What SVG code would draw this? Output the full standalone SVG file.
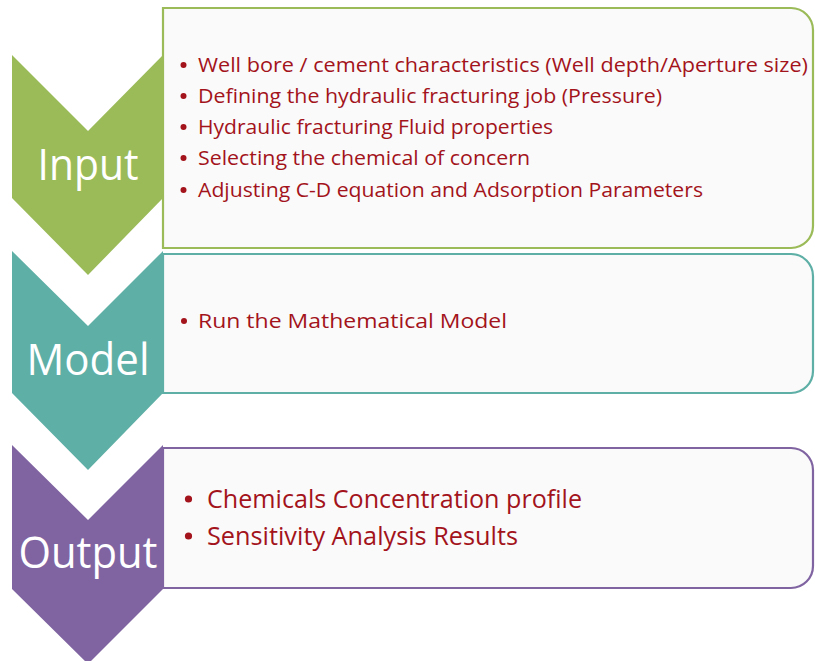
<svg xmlns="http://www.w3.org/2000/svg" width="815" height="661" viewBox="0 0 815 661">
<style>
.box{fill:#FAFAFA;stroke-width:2.2}
.lbl{font-family:"Open Sans","Liberation Sans",sans-serif;fill:#FFFFFF;text-anchor:middle;font-size:44px}
.item{font-family:"Open Sans","Liberation Sans",sans-serif;fill:#A3131B;font-size:20.5px}
.big{font-size:25px}
.dot{fill:#A3131B}
</style>
<rect width="815" height="661" fill="#FFFFFF"/>
<g id="input">
<path class="box" stroke="#9BBB59" d="M163,8 H791 A22,22 0 0 1 813,30 V226 A22,22 0 0 1 791,248 H163 Z"/>
<path fill="#9BBB59" d="M12,55 L88,131 L163,55 L163,198 L88,275 L12,198 Z"/>
<text class="lbl" x="88" y="180" textLength="101" lengthAdjust="spacingAndGlyphs">Input</text>
<circle class="dot" cx="183.5" cy="65" r="3"/>
<circle class="dot" cx="183.5" cy="96" r="3"/>
<circle class="dot" cx="183.5" cy="127" r="3"/>
<circle class="dot" cx="183.5" cy="158" r="3"/>
<circle class="dot" cx="183.5" cy="190" r="3"/>
<text class="item" x="198" y="72" textLength="610" lengthAdjust="spacingAndGlyphs">Well bore / cement characteristics (Well depth/Aperture size)</text>
<text class="item" x="198" y="103" textLength="464" lengthAdjust="spacingAndGlyphs">Defining the hydraulic fracturing job (Pressure)</text>
<text class="item" x="198" y="134" textLength="355" lengthAdjust="spacingAndGlyphs">Hydraulic fracturing Fluid properties</text>
<text class="item" x="198" y="165" textLength="332" lengthAdjust="spacingAndGlyphs">Selecting the chemical of concern</text>
<text class="item" x="198" y="197" textLength="505" lengthAdjust="spacingAndGlyphs">Adjusting C-D equation and Adsorption Parameters</text>
</g>
<g id="model">
<path class="box" stroke="#5EAFA6" d="M163,254 H791 A22,22 0 0 1 813,276 V371 A22,22 0 0 1 791,393 H163 Z"/>
<path fill="#5EAFA6" d="M12,251 L88,326 L163,251 L163,393 L88,470 L12,393 Z"/>
<text class="lbl" x="88" y="375" textLength="123" lengthAdjust="spacingAndGlyphs">Model</text>
<circle class="dot" cx="184" cy="321" r="3"/>
<text class="item" x="198" y="328" textLength="309" lengthAdjust="spacingAndGlyphs">Run the Mathematical Model</text>
</g>
<g id="output">
<path class="box" stroke="#8064A2" d="M163,448 H791 A22,22 0 0 1 813,470 V566 A22,22 0 0 1 791,588 H163 Z"/>
<path fill="#8064A2" d="M12,445 L88,520 L163,445 L163,589 L88,664 L12,589 Z"/>
<text class="lbl" x="88" y="568" textLength="139" lengthAdjust="spacingAndGlyphs">Output</text>
<circle class="dot" cx="188.5" cy="499" r="3.6"/>
<circle class="dot" cx="188.5" cy="536" r="3.6"/>
<text class="item big" x="207" y="508" textLength="375" lengthAdjust="spacingAndGlyphs">Chemicals Concentration profile</text>
<text class="item big" x="207" y="545" textLength="311" lengthAdjust="spacingAndGlyphs">Sensitivity Analysis Results</text>
</g>
</svg>
